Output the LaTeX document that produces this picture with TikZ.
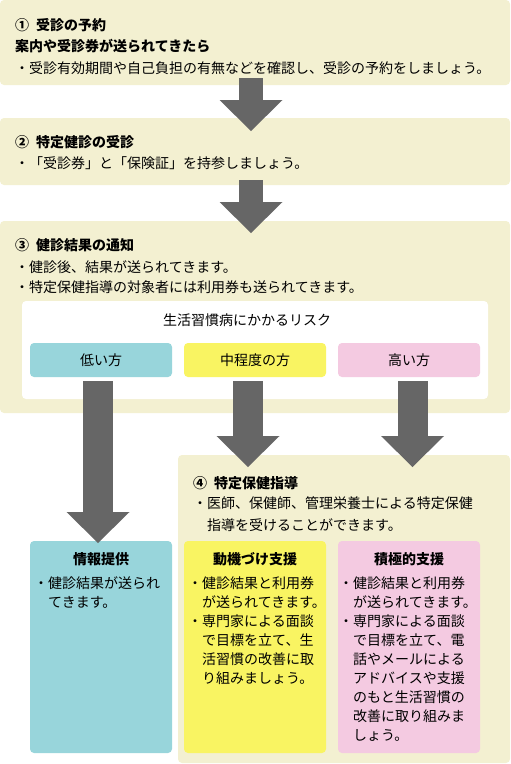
\documentclass[tikz,border=0pt]{standalone}
\usepackage{fontspec}
\setmainfont{Noto Sans CJK JP}
\usetikzlibrary{arrows.meta}
\definecolor{stepbg}{HTML}{F3F0D1}
\definecolor{lowbg}{HTML}{98D5DB}
\definecolor{midbg}{HTML}{F9F462}
\definecolor{highbg}{HTML}{F4CAE1}
\definecolor{arrowgray}{HTML}{666666}
\begin{document}
\begin{tikzpicture}[x=1pt,y=-1pt,
box/.style={anchor=north west,rounded corners=4pt,inner sep=0pt,outer sep=0pt},
stepbox/.style={box,fill=stepbg,minimum width=510pt},
riskbox/.style={box,minimum width=142pt,minimum height=34pt,font=\fontsize{14}{19}\selectfont},
kindbox/.style={box,minimum width=142pt,minimum height=212pt},
txt/.style={anchor=base west,align=left,inner sep=0pt,font=\fontsize{14}{19}\selectfont},
head/.style={txt,font=\fontsize{14}{19}\selectfont\bfseries},
tag/.style={anchor=base,inner sep=0pt,font=\fontsize{14}{19}\selectfont\bfseries},
flow/.style={draw=arrowgray,line width=24pt,-{Triangle[width=63pt,length=31pt,line width=0pt]}},
]
\useasboundingbox (0,0) rectangle (511,764);
%\draw[help lines,step=20](0,0)grid(511,764);
% multi-line texts: y is the baseline of the last line

% steps 1-3
\node[stepbox,minimum height=85pt] (s1) at (0,0) {};
\node[head] (s1t) at (15,30) {①\hspace{.5em}受診の予約};
\node[head] (s1a) at (15,51) {案内や受診券が送られてきたら};
\node[txt] (s1b) at (15,73) {・受診有効期間や自己負担の有無などを確認し、受診の予約をしましょう。};

\node[stepbox,minimum height=67pt] (s2) at (0,118) {};
\node[head] (s2t) at (15,147) {②\hspace{.5em}特定健診の受診};
\node[txt] (s2b) at (15,168) {・「受診券」と「保険証」を持参しましょう。};

\node[stepbox,minimum height=192pt] (s3) at (0,221) {};
\node[head] (s3t) at (15,250) {③\hspace{.5em}健診結果の通知};
\node[txt,font=\fontsize{14}{20}\selectfont] (s3b) at (15,292) {・健診後、結果が送られてきます。\\・特定保健指導の対象者には利用券も送られてきます。};

% risk
\node[box,fill=white,minimum width=466pt,minimum height=98pt] (risk) at (22,301) {};
\node[tag,font=\fontsize{14}{19}\selectfont] (riskt) at (247,325) {生活習慣病にかかるリスク};
\node[riskbox,fill=lowbg] (low) at (30,343) {低い方};
\node[riskbox,fill=midbg] (mid) at (184,343) {中程度の方};
\node[riskbox,fill=highbg] (high) at (338,343) {高い方};

% step 4
\node[box,fill=stepbg,minimum width=332pt,minimum height=308pt] (s4) at (178,455) {};
\node[head] (s4t) at (193,488) {④\hspace{.5em}特定保健指導};
\node[txt,font=\fontsize{14}{22}\selectfont] (s4b) at (193,530) {・医師、保健師、管理栄養士による特定保健\\　指導を受けることができます。};

\node[kindbox,fill=lowbg] (info) at (30,541) {};
\node[tag] (infot) at (101,564) {情報提供};
\node[txt] (infob) at (34,607) {・健診結果が送られ\\　てきます。};

\node[kindbox,fill=midbg] (motiv) at (184,541) {};
\node[tag] (motivt) at (255,564) {動機づけ支援};
\node[txt] (motivb) at (188,683) {・健診結果と利用券\\　が送られてきます。\\・専門家による面談\\　で目標を立て、生\\　活習慣の改善に取\\　り組みましょう。};

\node[kindbox,fill=highbg] (active) at (338,541) {};
\node[tag] (activet) at (409,564) {積極的支援};
\node[txt] (activeb) at (339,740) {・健診結果と利用券\\　が送られてきます。\\・専門家による面談\\　で目標を立て、電\\　話やメールによる\\　アドバイスや支援\\　のもと生活習慣の\\　改善に取り組みま\\　しょう。};

% arrows
\draw[flow] ([xshift=-4pt,yshift=7pt]s1.south) -- ([xshift=-4pt,yshift=-13pt]s2.north);
\draw[flow] ([xshift=-4pt,yshift=5pt]s2.south) -- ([xshift=-4pt,yshift=-12pt]s3.north);
\draw[flow,line width=30pt] ([xshift=-3pt,yshift=-4pt]low.south) -- ([xshift=-3pt,yshift=-2pt]info.north);
\draw[flow,line width=30pt] ([xshift=-7pt,yshift=-4pt]mid.south) -- ([xshift=-7pt,yshift=-12pt]mid.south |- s4.north);
\draw[flow,line width=30pt] ([xshift=3.5pt,yshift=-4pt]high.south) -- ([xshift=3.5pt,yshift=-12pt]high.south |- s4.north);

\end{tikzpicture}
\end{document}
